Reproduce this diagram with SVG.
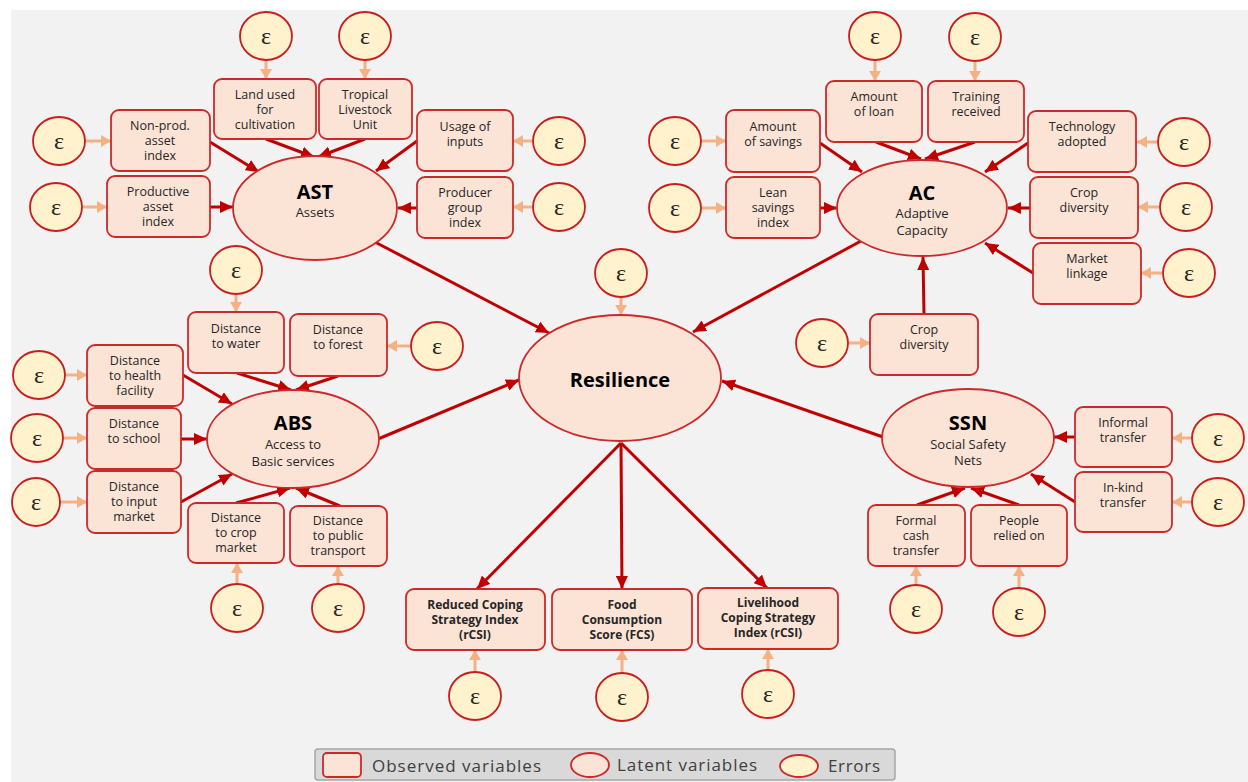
<svg xmlns="http://www.w3.org/2000/svg" width="1248" height="782" viewBox="0 0 1248 782">
<defs>
<style>
.bg{fill:#f2f2f2}
.obs{fill:#fbe3d6;stroke:#cc2a2a;stroke-width:1.8}
.lat{fill:#fbe3d6;stroke:#cc2a2a;stroke-width:1.8}
.err{fill:#fff2cc;stroke:#c81e1e;stroke-width:1.8}
.t{font-family:"Open Sans","Noto Sans",sans-serif;font-size:12.5px;fill:#262626;text-anchor:middle}
.tb{font-family:"Open Sans","Noto Sans",sans-serif;font-size:12px;font-weight:bold;fill:#262626;text-anchor:middle}
.lt{font-family:"Open Sans","Noto Sans",sans-serif;font-size:20px;font-weight:bold;fill:#000;text-anchor:middle}
.ls{font-family:"Open Sans","Noto Sans",sans-serif;font-size:13px;fill:#262626;text-anchor:middle}
.e{font-family:"Liberation Serif","DejaVu Serif",serif;font-size:24px;fill:#262626;text-anchor:middle}
.red{stroke:#c00000;stroke-width:3;fill:none;marker-end:url(#ra)}
.org{stroke:#f4b183;stroke-width:3;fill:none;marker-end:url(#oa)}
.leg{font-family:"Open Sans","Noto Sans",sans-serif;font-size:17px;fill:#404040}
</style>
<marker id="ra" markerUnits="userSpaceOnUse" markerWidth="14" markerHeight="12" refX="13" refY="6" orient="auto"><path d="M0,0 L13,6 L0,12 z" fill="#c00000"/></marker>
<marker id="oa" markerUnits="userSpaceOnUse" markerWidth="11" markerHeight="12" refX="10" refY="6" orient="auto"><path d="M0,0 L10,6 L0,12 z" fill="#f4b183"/></marker>
</defs>
<rect x="0" y="0" width="1248" height="782" fill="#ffffff"/>
<rect class="bg" x="11" y="10" width="1237" height="772"/>

<g id="connectors">
<!-- AST -->
<line class="red" x1="210" y1="142" x2="259" y2="172"/>
<line class="red" x1="210" y1="207" x2="233" y2="207"/>
<line class="red" x1="266" y1="139" x2="314" y2="157"/>
<line class="red" x1="365" y1="139" x2="318" y2="157"/>
<line class="red" x1="417" y1="141" x2="376" y2="171"/>
<line class="red" x1="417" y1="208" x2="398" y2="208"/>
<line class="red" x1="373" y1="241" x2="549" y2="333"/>
<!-- AC -->
<line class="red" x1="820" y1="143" x2="862" y2="172"/>
<line class="red" x1="820" y1="208" x2="837" y2="208"/>
<line class="red" x1="876" y1="142" x2="921" y2="159"/>
<line class="red" x1="975" y1="142" x2="925" y2="159"/>
<line class="red" x1="1028" y1="143" x2="985" y2="172"/>
<line class="red" x1="1030" y1="208" x2="1008" y2="208"/>
<line class="red" x1="1033" y1="273" x2="985" y2="243"/>
<line class="red" x1="924" y1="314" x2="923" y2="257"/>
<line class="red" x1="861" y1="241" x2="693" y2="332"/>
<!-- ABS -->
<line class="red" x1="183" y1="375" x2="232" y2="404"/>
<line class="red" x1="181" y1="439" x2="207" y2="439"/>
<line class="red" x1="181" y1="502" x2="232" y2="474"/>
<line class="red" x1="237" y1="373" x2="291" y2="390"/>
<line class="red" x1="338" y1="376" x2="296" y2="390"/>
<line class="red" x1="236" y1="503" x2="290" y2="488"/>
<line class="red" x1="340" y1="506" x2="296" y2="488"/>
<line class="red" x1="378" y1="439" x2="519" y2="380"/>
<!-- SSN -->
<line class="red" x1="1075" y1="437" x2="1054" y2="437"/>
<line class="red" x1="1075" y1="502" x2="1031" y2="474"/>
<line class="red" x1="917" y1="505" x2="965" y2="488"/>
<line class="red" x1="1019" y1="505" x2="971" y2="488"/>
<line class="red" x1="883" y1="437" x2="722" y2="381"/>
<!-- outcomes -->
<line class="red" x1="621" y1="443" x2="477" y2="589"/>
<line class="red" x1="621" y1="443" x2="622" y2="589"/>
<line class="red" x1="621" y1="443" x2="767" y2="588"/>
<!-- error arrows -->
<line class="org" x1="266" y1="60" x2="266" y2="79"/>
<line class="org" x1="365" y1="60" x2="365" y2="79"/>
<line class="org" x1="85" y1="141" x2="111" y2="141"/>
<line class="org" x1="82" y1="207" x2="107" y2="207"/>
<line class="org" x1="533" y1="141" x2="513" y2="141"/>
<line class="org" x1="533" y1="207" x2="513" y2="207"/>
<line class="org" x1="701" y1="141" x2="726" y2="141"/>
<line class="org" x1="701" y1="208" x2="726" y2="208"/>
<line class="org" x1="875" y1="60" x2="875" y2="81"/>
<line class="org" x1="975" y1="61" x2="975" y2="81"/>
<line class="org" x1="1158" y1="142" x2="1137" y2="142"/>
<line class="org" x1="1160" y1="207" x2="1138" y2="207"/>
<line class="org" x1="1163" y1="273" x2="1141" y2="273"/>
<line class="org" x1="848" y1="343" x2="870" y2="343"/>
<line class="org" x1="621" y1="297" x2="621" y2="315"/>
<line class="org" x1="236" y1="294" x2="236" y2="312"/>
<line class="org" x1="411" y1="346" x2="387" y2="346"/>
<line class="org" x1="65" y1="375" x2="87" y2="375"/>
<line class="org" x1="63" y1="438" x2="87" y2="438"/>
<line class="org" x1="60" y1="502" x2="87" y2="502"/>
<line class="org" x1="237" y1="584" x2="237" y2="563"/>
<line class="org" x1="338" y1="584" x2="338" y2="566"/>
<line class="org" x1="1192" y1="438" x2="1172" y2="438"/>
<line class="org" x1="1192" y1="502" x2="1172" y2="502"/>
<line class="org" x1="916" y1="585" x2="916" y2="566"/>
<line class="org" x1="1019" y1="588" x2="1019" y2="566"/>
<line class="org" x1="475" y1="672" x2="475" y2="650"/>
<line class="org" x1="622" y1="673" x2="622" y2="650"/>
<line class="org" x1="768" y1="670" x2="768" y2="649"/>
</g>

<!-- Latent variables -->
<g id="AST"><ellipse class="lat" cx="315" cy="208" rx="82" ry="52"/><text class="lt" x="315" y="199">AST</text><text class="ls" x="315" y="217">Assets</text></g>
<g id="AC"><ellipse class="lat" cx="922" cy="208" rx="85" ry="48"/><text class="lt" x="922" y="200">AC</text><text class="ls" x="922" y="218">Adaptive</text><text class="ls" x="922" y="235">Capacity</text></g>
<g id="ABS"><ellipse class="lat" cx="293" cy="439" rx="86" ry="49"/><text class="lt" x="293" y="430">ABS</text><text class="ls" x="293" y="449">Access to</text><text class="ls" x="293" y="466">Basic services</text></g>
<g id="SSN"><ellipse class="lat" cx="968" cy="438" rx="86" ry="49"/><text class="lt" x="968" y="430">SSN</text><text class="ls" x="968" y="449">Social Safety</text><text class="ls" x="968" y="465">Nets</text></g>
<g id="Resilience"><ellipse class="lat" cx="620" cy="378" rx="101" ry="63"/><text class="lt" x="620" y="387">Resilience</text></g>

<!-- Observed variables -->
<g id="land"><rect class="obs" x="214" y="79" width="102" height="60" rx="8"/><text class="t" x="265" y="99">Land used</text><text class="t" x="265" y="114">for</text><text class="t" x="265" y="129">cultivation</text></g>
<g id="tlu"><rect class="obs" x="319" y="79" width="93" height="60" rx="8"/><text class="t" x="365" y="99">Tropical</text><text class="t" x="365" y="114">Livestock</text><text class="t" x="365" y="129">Unit</text></g>
<g id="nonprod"><rect class="obs" x="111" y="110" width="99" height="61" rx="8"/><text class="t" x="160" y="130">Non-prod.</text><text class="t" x="160" y="145">asset</text><text class="t" x="160" y="160">index</text></g>
<g id="prod"><rect class="obs" x="107" y="176" width="103" height="61" rx="8"/><text class="t" x="158" y="196">Productive</text><text class="t" x="158" y="211">asset</text><text class="t" x="158" y="226">index</text></g>
<g id="usage"><rect class="obs" x="417" y="110" width="96" height="61" rx="8"/><text class="t" x="465" y="131">Usage of</text><text class="t" x="465" y="146">inputs</text></g>
<g id="producer"><rect class="obs" x="417" y="177" width="96" height="61" rx="8"/><text class="t" x="465" y="197">Producer</text><text class="t" x="465" y="212">group</text><text class="t" x="465" y="227">index</text></g>

<g id="savings"><rect class="obs" x="726" y="110" width="94" height="62" rx="8"/><text class="t" x="773" y="131">Amount</text><text class="t" x="773" y="146">of savings</text></g>
<g id="lean"><rect class="obs" x="726" y="177" width="94" height="61" rx="8"/><text class="t" x="773" y="197">Lean</text><text class="t" x="773" y="212">savings</text><text class="t" x="773" y="227">index</text></g>
<g id="loan"><rect class="obs" x="826" y="81" width="96" height="61" rx="8"/><text class="t" x="874" y="101">Amount</text><text class="t" x="874" y="116">of loan</text></g>
<g id="training"><rect class="obs" x="928" y="81" width="96" height="61" rx="8"/><text class="t" x="976" y="101">Training</text><text class="t" x="976" y="116">received</text></g>
<g id="tech"><rect class="obs" x="1028" y="111" width="108" height="61" rx="8"/><text class="t" x="1082" y="131">Technology</text><text class="t" x="1082" y="146">adopted</text></g>
<g id="crop1"><rect class="obs" x="1030" y="177" width="108" height="61" rx="8"/><text class="t" x="1084" y="197">Crop</text><text class="t" x="1084" y="212">diversity</text></g>
<g id="market"><rect class="obs" x="1033" y="243" width="108" height="61" rx="8"/><text class="t" x="1087" y="263">Market</text><text class="t" x="1087" y="278">linkage</text></g>
<g id="crop2"><rect class="obs" x="870" y="314" width="108" height="61" rx="8"/><text class="t" x="924" y="334">Crop</text><text class="t" x="924" y="349">diversity</text></g>

<g id="water"><rect class="obs" x="188" y="312" width="96" height="61" rx="8"/><text class="t" x="236" y="333">Distance</text><text class="t" x="236" y="348">to water</text></g>
<g id="forest"><rect class="obs" x="290" y="314" width="97" height="62" rx="8"/><text class="t" x="338" y="334">Distance</text><text class="t" x="338" y="349">to forest</text></g>
<g id="health"><rect class="obs" x="87" y="345" width="96" height="61" rx="8"/><text class="t" x="135" y="365">Distance</text><text class="t" x="135" y="380">to health</text><text class="t" x="135" y="395">facility</text></g>
<g id="school"><rect class="obs" x="87" y="408" width="94" height="61" rx="8"/><text class="t" x="134" y="428">Distance</text><text class="t" x="134" y="443">to school</text></g>
<g id="input"><rect class="obs" x="87" y="471" width="94" height="62" rx="8"/><text class="t" x="134" y="491">Distance</text><text class="t" x="134" y="506">to input</text><text class="t" x="134" y="521">market</text></g>
<g id="cropmarket"><rect class="obs" x="188" y="503" width="96" height="60" rx="8"/><text class="t" x="236" y="522">Distance</text><text class="t" x="236" y="537">to crop</text><text class="t" x="236" y="552">market</text></g>
<g id="transport"><rect class="obs" x="290" y="506" width="97" height="60" rx="8"/><text class="t" x="338" y="525">Distance</text><text class="t" x="338" y="540">to public</text><text class="t" x="338" y="555">transport</text></g>

<g id="informal"><rect class="obs" x="1075" y="407" width="97" height="60" rx="8"/><text class="t" x="1123" y="427">Informal</text><text class="t" x="1123" y="442">transfer</text></g>
<g id="inkind"><rect class="obs" x="1075" y="472" width="97" height="60" rx="8"/><text class="t" x="1123" y="492">In-kind</text><text class="t" x="1123" y="507">transfer</text></g>
<g id="formal"><rect class="obs" x="868" y="505" width="97" height="61" rx="8"/><text class="t" x="916" y="525">Formal</text><text class="t" x="916" y="540">cash</text><text class="t" x="916" y="555">transfer</text></g>
<g id="people"><rect class="obs" x="971" y="505" width="96" height="61" rx="8"/><text class="t" x="1019" y="525">People</text><text class="t" x="1019" y="540">relied on</text></g>

<g id="rcsi"><rect class="obs" x="406" y="589" width="139" height="61" rx="8"/><text class="tb" x="475" y="609">Reduced Coping</text><text class="tb" x="475" y="624">Strategy Index</text><text class="tb" x="475" y="639">(rCSI)</text></g>
<g id="fcs"><rect class="obs" x="552" y="589" width="140" height="61" rx="8"/><text class="tb" x="622" y="609">Food</text><text class="tb" x="622" y="624">Consumption</text><text class="tb" x="622" y="639">Score (FCS)</text></g>
<g id="lcsi"><rect class="obs" x="698" y="588" width="140" height="61" rx="8"/><text class="tb" x="768" y="607">Livelihood</text><text class="tb" x="768" y="622">Coping Strategy</text><text class="tb" x="768" y="637">Index (rCSI)</text></g>

<!-- Errors -->
<g id="errors">
<g><ellipse class="err" cx="266" cy="36" rx="26" ry="24"/><text class="e" x="266" y="44">ε</text></g>
<g><ellipse class="err" cx="365" cy="36" rx="26" ry="24"/><text class="e" x="365" y="44">ε</text></g>
<g><ellipse class="err" cx="59" cy="141" rx="26" ry="24"/><text class="e" x="59" y="149">ε</text></g>
<g><ellipse class="err" cx="56" cy="207" rx="26" ry="24"/><text class="e" x="56" y="215">ε</text></g>
<g><ellipse class="err" cx="559" cy="141" rx="26" ry="24"/><text class="e" x="559" y="149">ε</text></g>
<g><ellipse class="err" cx="559" cy="207" rx="26" ry="24"/><text class="e" x="559" y="215">ε</text></g>
<g><ellipse class="err" cx="675" cy="141" rx="26" ry="24"/><text class="e" x="675" y="149">ε</text></g>
<g><ellipse class="err" cx="675" cy="208" rx="26" ry="24"/><text class="e" x="675" y="216">ε</text></g>
<g><ellipse class="err" cx="875" cy="36" rx="26" ry="24"/><text class="e" x="875" y="44">ε</text></g>
<g><ellipse class="err" cx="975" cy="37" rx="26" ry="24"/><text class="e" x="975" y="45">ε</text></g>
<g><ellipse class="err" cx="1184" cy="142" rx="26" ry="24"/><text class="e" x="1184" y="150">ε</text></g>
<g><ellipse class="err" cx="1186" cy="207" rx="26" ry="24"/><text class="e" x="1186" y="215">ε</text></g>
<g><ellipse class="err" cx="1189" cy="273" rx="26" ry="24"/><text class="e" x="1189" y="281">ε</text></g>
<g><ellipse class="err" cx="822" cy="343" rx="26" ry="24"/><text class="e" x="822" y="351">ε</text></g>
<g><ellipse class="err" cx="621" cy="273" rx="26" ry="24"/><text class="e" x="621" y="281">ε</text></g>
<g><ellipse class="err" cx="236" cy="270" rx="26" ry="24"/><text class="e" x="236" y="278">ε</text></g>
<g><ellipse class="err" cx="437" cy="346" rx="26" ry="24"/><text class="e" x="437" y="354">ε</text></g>
<g><ellipse class="err" cx="39" cy="375" rx="26" ry="24"/><text class="e" x="39" y="383">ε</text></g>
<g><ellipse class="err" cx="37" cy="438" rx="26" ry="24"/><text class="e" x="37" y="446">ε</text></g>
<g><ellipse class="err" cx="36" cy="502" rx="24" ry="24"/><text class="e" x="36" y="510">ε</text></g>
<g><ellipse class="err" cx="237" cy="608" rx="26" ry="24"/><text class="e" x="237" y="616">ε</text></g>
<g><ellipse class="err" cx="338" cy="608" rx="26" ry="24"/><text class="e" x="338" y="616">ε</text></g>
<g><ellipse class="err" cx="1218" cy="438" rx="26" ry="24"/><text class="e" x="1218" y="446">ε</text></g>
<g><ellipse class="err" cx="1218" cy="502" rx="26" ry="24"/><text class="e" x="1218" y="510">ε</text></g>
<g><ellipse class="err" cx="916" cy="609" rx="26" ry="24"/><text class="e" x="916" y="617">ε</text></g>
<g><ellipse class="err" cx="1019" cy="612" rx="26" ry="24"/><text class="e" x="1019" y="620">ε</text></g>
<g><ellipse class="err" cx="475" cy="696" rx="26" ry="24"/><text class="e" x="475" y="704">ε</text></g>
<g><ellipse class="err" cx="622" cy="697" rx="26" ry="24"/><text class="e" x="622" y="705">ε</text></g>
<g><ellipse class="err" cx="768" cy="694" rx="26" ry="24"/><text class="e" x="768" y="702">ε</text></g>
</g>

<!-- Legend -->
<g id="legend">
<rect x="315" y="749" width="580" height="31" rx="3" fill="#d9d9d9" stroke="#a6a6a6" stroke-width="1.5"/>
<rect x="323" y="753" width="38" height="24" rx="4" fill="#fbe3d6" stroke="#cc2a2a" stroke-width="1.8"/>
<text class="leg" x="372" y="772" textLength="169" lengthAdjust="spacing">Observed variables</text>
<ellipse cx="590" cy="765" rx="19" ry="12" fill="#fbe3d6" stroke="#cc2a2a" stroke-width="1.8"/>
<text class="leg" x="617" y="771" textLength="140" lengthAdjust="spacing">Latent variables</text>
<ellipse cx="799" cy="766" rx="19" ry="11" fill="#fff2cc" stroke="#cc2a2a" stroke-width="1.8"/>
<text class="leg" x="828" y="772" textLength="52" lengthAdjust="spacing">Errors</text>
</g>
</svg>
